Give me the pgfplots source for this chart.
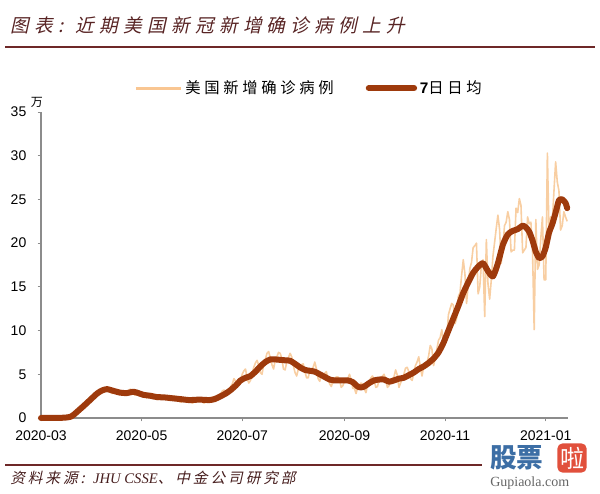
\documentclass[border=0pt]{standalone}
\usepackage{fontspec}
\usepackage{pgfplots}
\pgfplotsset{compat=1.18}
\setmainfont{Liberation Sans}
\newfontfamily\tnr{Liberation Serif}
\newfontfamily\cjktitle[FakeSlant=0.22, LetterSpace=28]{Noto Sans CJK SC}
\newfontfamily\cjksrc[FakeSlant=0.22, LetterSpace=20]{Noto Sans CJK SC}
\newfontfamily\cjkleg[LetterSpace=24]{Noto Sans CJK SC}
\newfontfamily\cjk{Noto Sans CJK SC}
\definecolor{rawc}{RGB}{248,206,162}
\definecolor{avgc}{RGB}{158,58,12}
\definecolor{titlec}{RGB}{88,36,36}
\definecolor{rulec}{RGB}{110,40,40}
\definecolor{axc}{RGB}{140,140,140}
\definecolor{wmblue}{RGB}{60,110,165}
\definecolor{wmred}{RGB}{225,80,60}
\begin{document}
\begin{tikzpicture}
\useasboundingbox (0pt,0pt) rectangle (450pt,369.75pt);
\begin{axis}[
  at={(30.75pt,56.25pt)}, anchor=origin,
  scale only axis, width=395.25pt, height=229.5pt,
  xmin=0, xmax=319.5, ymin=0, ymax=35,
  axis x line=bottom, axis y line=left,
  axis line style={-, axc, line width=0.8pt},
  xtick={0,61,122,184,245,306},
  xticklabels={2020-03,2020-05,2020-07,2020-09,2020-11,2021-01},
  ytick={0,5,10,15,20,25,30,35},
  tick style={axc, line width=0.6pt},
  tick align=outside, major tick length=2.5pt,
  tick label style={font=\fontsize{10.5}{12}\selectfont, text=black},
  /pgf/number format/assume math mode=true,
  yticklabel style={xshift=-5pt},
  xticklabel style={yshift=-3.5pt},
  legend style={at={(0.509,1.078)}, anchor=center, draw=none, fill=none,
    legend columns=2, font=\fontsize{11.5}{13}\selectfont,
    /tikz/every even column/.append style={column sep=22pt}},
  legend image code/.code={\draw[#1] (0pt,0pt) -- (34pt,0pt);},
  clip=false,
]
\addplot[rawc, line width=1.2pt, line join=round, legend image post style={line width=2.4pt, rawc!90!orange}] coordinates {
(0,0)(1,0)(2,0)(3,0)(4,0)(5,0)(6,0)(7,0)(8,0.01)(9,0.01)(10,0.02)(11,0.03)(12,0.04)(13,0.05)(14,0.06)(15,0.08)(16,0.1)(17,0.15)
(18,0.25)(19,0.35)(20,0.5)(21,0.6)(22,0.75)(23,1.0)(24,1.1)(25,1.2)(26,1.6)(27,1.8)(28,1.9)(29,2.0)(30,2.2)(31,2.4)(32,2.6)(33,2.8)(34,3.0)(35,3.2)(36,2.9)(37,3.1)(38,3.3)(39,3.3)
(40,3.4)(41,3.5)(42,3.0)(43,2.8)(44,3.0)(45,3.1)(46,3.2)(47,3.0)(48,2.9)(49,2.7)(50,2.6)(51,2.8)(52,3.0)(53,3.1)(54,3.3)(55,3.2)(56,2.8)(57,2.6)(58,2.7)(59,2.9)
(60,3.0)(61,2.9)(62,2.7)(63,2.5)(64,2.3)(65,2.5)(66,2.6)(67,2.8)(68,2.7)(69,2.6)(70,2.2)(71,2.1)(72,2.4)(73,2.6)(74,2.5)(75,2.5)(76,2.3)(77,2.1)(78,2.0)(79,2.2)
(80,2.4)(81,2.5)(82,2.4)(83,2.2)(84,1.9)(85,1.8)(86,2.0)(87,2.2)(88,2.3)(89,2.3)(90,2.1)(91,1.8)(92,1.7)(93,1.9)(94,2.1)(95,2.2)(96,2.3)(97,2.2)(98,1.8)(99,1.7)
(100,1.9)(101,2.1)(102,2.3)(103,2.3)(104,2.4)(105,2.0)(106,1.9)(107,2.3)(108,2.6)(109,2.8)(110,3.1)(111,3.2)(112,2.7)(113,2.6)(114,3.0)(115,3.6)(116,3.9)(117,4.5)(118,4.2)(119,3.9)
(120,3.7)(121,4.4)(122,5.0)(123,5.4)(124,5.6)(125,4.5)(126,4.0)(127,4.3)(128,5.1)(129,5.8)(130,6.3)(131,6.6)(132,6.0)(133,5.2)(134,5.0)(135,6.1)(136,6.7)(137,7.4)(138,7.6)(139,6.9)
(140,6.1)(141,5.6)(142,6.6)(143,7.0)(144,7.5)(145,7.4)(146,6.8)(147,5.6)(148,5.5)(149,6.4)(150,6.9)(151,7.4)(152,7.0)(153,6.0)(154,5.2)(155,4.8)(156,5.6)(157,5.6)(158,6.1)(159,6.2)
(160,5.3)(161,4.6)(162,4.6)(163,5.5)(164,5.5)(165,5.8)(166,6.4)(167,5.6)(168,4.5)(169,4.2)(170,4.9)(171,4.9)(172,5.1)(173,5.3)(174,4.5)(175,3.9)(176,3.6)(177,4.2)(178,4.5)(179,4.7)
(180,4.7)(181,4.4)(182,3.5)(183,3.7)(184,4.2)(185,4.5)(186,4.5)(187,5.0)(188,4.4)(189,3.4)(190,3.4)(191,2.8)(192,3.5)(193,3.7)(194,4.0)(195,3.9)(196,3.3)(197,2.9)(198,3.8)(199,4.2)
(200,4.6)(201,4.8)(202,4.3)(203,3.5)(204,3.6)(205,4.4)(206,4.4)(207,4.8)(208,5.0)(209,4.4)(210,3.5)(211,3.7)(212,4.3)(213,4.5)(214,4.7)(215,5.5)(216,4.9)(217,3.5)(218,4.0)(219,4.5)
(220,5.0)(221,5.7)(222,5.8)(223,5.3)(224,4.5)(225,4.3)(226,5.1)(227,6.0)(228,6.4)(229,7.0)(230,5.8)(231,4.8)(232,5.9)(233,6.3)(234,6.3)(235,7.1)(236,8.3)(237,7.9)(238,6.0)(239,6.8)
(240,7.9)(241,8.9)(242,9.2)(243,10.1)(244,8.6)(245,8.5)(246,9.3)(247,11.8)(248,12.5)(249,13.1)(250,12.9)(251,10.8)(252,11.4)(253,13.9)(254,14.3)(255,16.3)(256,18.1)(257,16.5)(258,13.1)(259,15.3)
(260,17.1)(261,17.8)(262,19.5)(263,19.7)(264,20.0)(265,14.2)(266,15.0)(267,17.6)(268,18.1)(269,11.6)(270,20.4)(271,15.3)(272,13.6)(273,15.8)(274,18.5)(275,20.1)(276,21.7)(277,23.2)(278,21.6)(279,17.7)
(280,19.5)(281,22.0)(282,22.4)(283,23.6)(284,22.7)(285,19.0)(286,19.2)(287,19.2)(288,24.0)(289,23.5)(290,25.1)(291,24.3)(292,18.9)(293,19.2)(294,19.5)(295,23.0)(296,22.2)(297,22.4)(298,19.0)(299,10.1)
(300,22.7)(301,17.0)(302,17.5)(303,20.5)(304,23.0)(305,15.8)(306,15.8)(307,30.3)(308,21.0)(309,23.0)(310,22.5)(311,26.0)(312,29.3)(313,27.0)(314,26.0)(315,21.5)(316,22.0)(317,23.6)(318,23.0)(319,22.5)
};
\addlegendentry{\cjkleg 美国新增确诊病例}
\addplot[avgc, line width=4.5pt, line cap=round, line join=round, smooth, tension=0.4] coordinates {
(0,0)(10,0.01)(15,0.05)(18,0.15)(20,0.4)(23,0.9)(26,1.4)(30,2.1)(34,2.8)(37,3.15)(40,3.3)(44,3.1)(48,2.9)(52,2.85)(56,3.0)(59,2.85)(62,2.65)(66,2.55)(70,2.4)(75,2.35)(80,2.25)(85,2.15)(90,2.05)(96,2.1)(102,2.05)(105,2.15)(108,2.4)(112,2.8)(115,3.2)(118,3.7)(121,4.3)(124,4.6)(127,4.8)(130,5.3)(133,5.9)(136,6.4)(139,6.7)(142,6.7)(145,6.65)(148,6.6)(151,6.55)(154,6.2)(157,5.8)(160,5.5)(163,5.4)(166,5.3)(169,5.0)(172,4.7)(175,4.4)(178,4.3)(182,4.3)(186,4.3)(189,4.1)(192,3.6)(194,3.5)(196,3.6)(199,4.0)(202,4.3)(205,4.4)(208,4.4)(211,4.15)(214,4.3)(217,4.5)(220,4.6)(223,4.9)(226,5.2)(229,5.6)(232,5.9)(235,6.3)(238,6.8)(241,7.5)(244,8.6)(247,10.0)(250,11.4)(253,12.8)(256,14.3)(259,15.5)(262,16.6)(265,17.3)(268,17.7)(271,16.8)(274,16.2)(277,17.7)(280,19.8)(283,21.0)(286,21.4)(289,21.6)(292,22.0)(294,21.8)(296,21.3)(298,20.3)(300,19.0)(302,18.3)(304,18.5)(306,19.5)(308,21.2)(310,22.2)(312,23.5)(314,24.9)(316,25.0)(318,24.6)(319,24.0)
};
\addlegendentry{\textbf{7}\cjkleg 日日均}
\end{axis}
\begin{scope}[x=0.75pt,y=0.75pt]
% title
\node[anchor=west, text=titlec, inner sep=0pt] at (10,468) {\fontsize{14}{16}\cjktitle 图表: 近期美国新冠新增确诊病例上升};
\draw[rulec, line width=1.1pt] (5,446) -- (595,446);
% source
\draw[rulec, line width=0.9pt] (5,28) -- (482,28);
\node[anchor=west, text=titlec!80!black, inner sep=0pt] at (10,15) {\fontsize{11}{13}\cjksrc 资料来源: {\tnr\itshape JHU CSSE}、中金公司研究部};
% unit
\node[inner sep=0pt] at (37,391) {\fontsize{9}{10}\cjk 万};
% watermark
\node[anchor=west, text=wmblue, inner sep=0pt] at (490,35) {\fontsize{20}{22}\cjk\bfseries 股票};
\node[fill=wmred, rounded corners=4pt, text=white, inner sep=1pt, minimum size=22pt] at (572,35) {\fontsize{18}{20}\cjk 啦};
\node[anchor=west, text=gray!80!black, inner sep=0pt] at (490,10) {\fontsize{10.5}{12}\tnr Gupiaola.com};
\end{scope}
\end{tikzpicture}
\end{document}
